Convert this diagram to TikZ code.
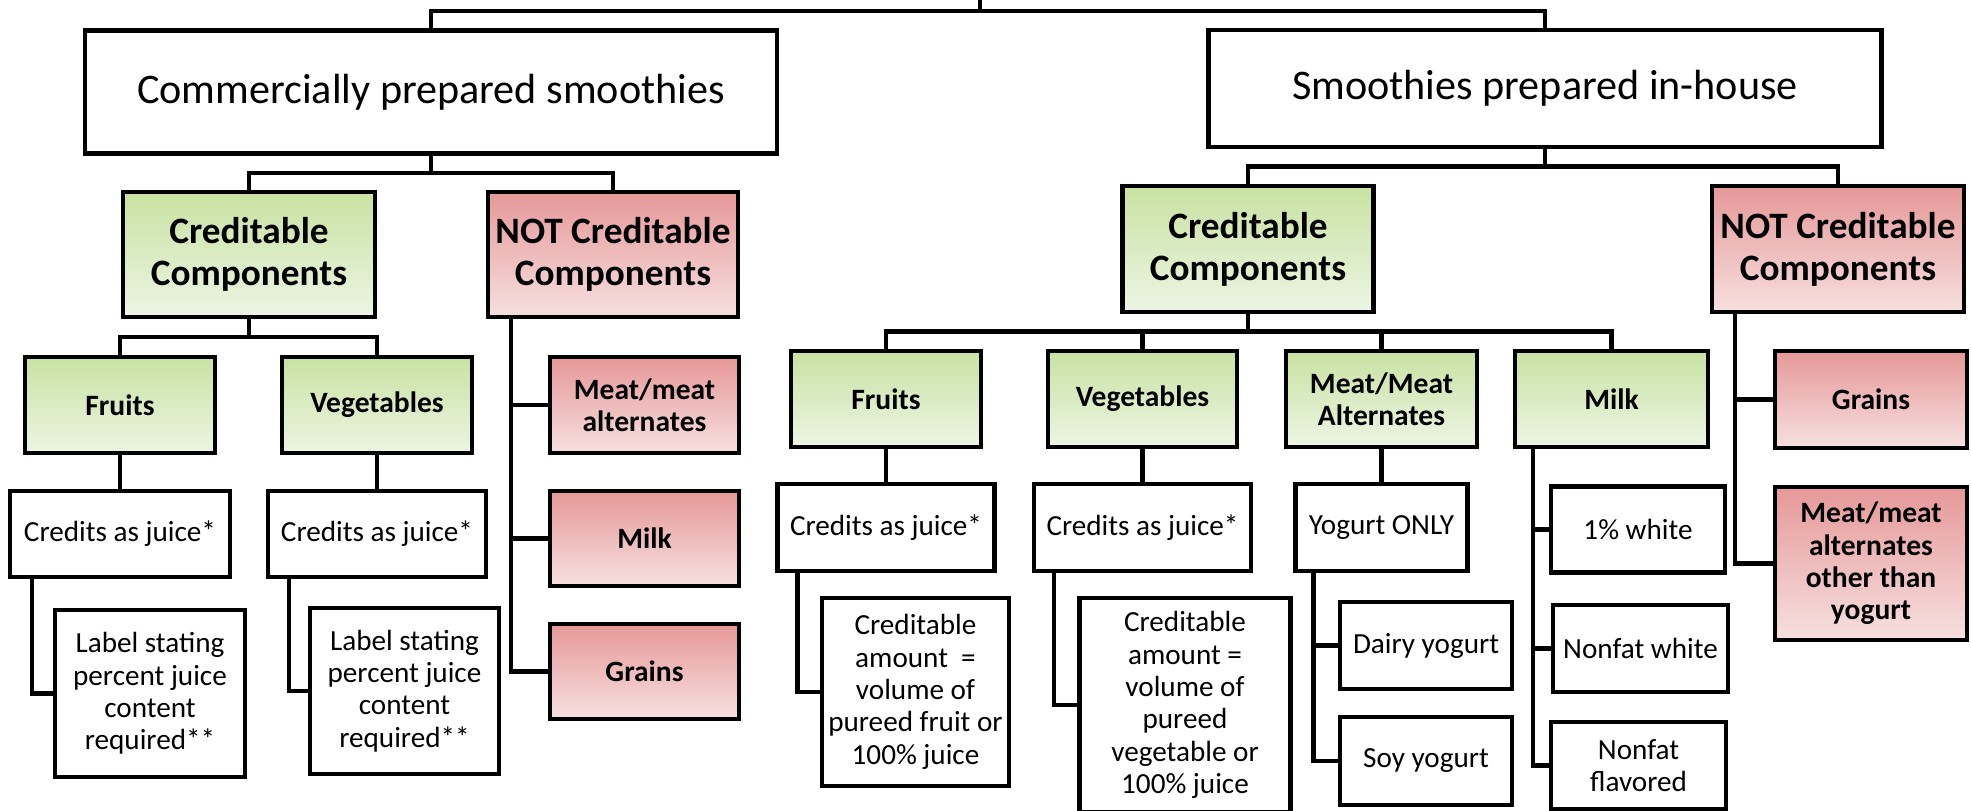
\documentclass[tikz,border=0pt]{standalone}
\usepackage{fontspec}
\setmainfont{Carlito}
\usetikzlibrary{calc}
\definecolor{greentop}{RGB}{200,226,162}
\definecolor{greenbot}{RGB}{237,245,228}
\definecolor{redtop}{RGB}{230,152,152}
\definecolor{redbot}{RGB}{247,224,224}

\begin{document}
\begin{tikzpicture}[x=1mm,y=-1mm,line width=1.2pt,
    box/.style={draw,rectangle,align=center,inner sep=0pt},
    head/.style={box,font=\fontsize{12}{14}\selectfont},
    credit/.style={box,top color=greentop,bottom color=greenbot,font=\bfseries\fontsize{10.6}{11.9}\selectfont},
    nocredit/.style={credit,top color=redtop,bottom color=redbot},
    good/.style={box,top color=greentop,bottom color=greenbot,font=\bfseries\fontsize{8.4}{9.2}\selectfont},
    bad/.style={good,top color=redtop,bottom color=redbot},
    plain/.style={box,font=\fontsize{8.3}{9.2}\selectfont},
    tree/.style={to path={(\tikztostart) |- ($(\tikztostart)!0.5!(\tikztotarget)$) -| (\tikztotarget)}}]
    \useasboundingbox (0,0) rectangle (197.1,81.1);

    \coordinate (root) at (98,-1);
    \coordinate (split) at (98,1.1);
    \node[head,minimum width=69.2mm,minimum height=12.3mm] (comm) at (43.1,9.2) {Commercially prepared smoothies};
    \node[head,minimum width=67.3mm,minimum height=11.7mm] (inhouse) at (154.5,8.85) {Smoothies prepared in-house};

    \node[credit,minimum width=25.2mm,minimum height=12.5mm] (credL) at (24.9,25.45) {Creditable\\Components};
    \node[nocredit,minimum width=25mm,minimum height=12.5mm] (notL) at (61.3,25.45) {NOT Creditable\\Components};
    \node[good,minimum width=19mm,minimum height=9.6mm] (fruitL) at (12,40.5) {Fruits};
    \node[good,minimum width=19mm,minimum height=9.6mm] (vegL) at (37.7,40.5) {Vegetables};
    \node[plain,minimum width=22mm,minimum height=8.6mm] (juiceL1) at (12,53.4) {Credits as juice*};
    \node[plain,minimum width=21.8mm,minimum height=8.6mm] (juiceL2) at (37.7,53.4) {Credits as juice*};
    \node[plain,minimum width=19mm,minimum height=16.7mm] (labelL1) at (15,69.35) {Label stating\\percent juice\\content\\required**};
    \node[plain,minimum width=18.9mm,minimum height=16.6mm] (labelL2) at (40.45,69.1) {Label stating\\percent juice\\content\\required**};
    \node[bad,minimum width=18.9mm,minimum height=9.6mm] (meatL) at (64.45,40.5) {Meat/meat\\alternates};
    \node[bad,minimum width=18.9mm,minimum height=9.5mm] (milkL) at (64.45,53.85) {Milk};
    \node[bad,minimum width=18.9mm,minimum height=9.5mm] (grainsL) at (64.45,67.15) {Grains};

    \node[credit,minimum width=25.1mm,minimum height=12.6mm] (credR) at (124.8,24.9) {Creditable\\Components};
    \node[nocredit,minimum width=25.2mm,minimum height=12.6mm] (notR) at (183.8,24.9) {NOT Creditable\\Components};
    \node[good,minimum width=19mm,minimum height=9.6mm] (fruitR) at (88.6,39.9) {Fruits};
    \node[good,minimum width=18.9mm,minimum height=9.6mm] (vegR) at (114.25,39.9) {Vegetables};
    \node[good,minimum width=19.1mm,minimum height=9.6mm] (meatR) at (138.15,39.9) {Meat/Meat\\Alternates};
    \node[good,minimum width=19.3mm,minimum height=9.6mm] (milkR) at (161.15,39.9) {Milk};
    \node[plain,minimum width=21.7mm,minimum height=8.7mm] (juiceR1) at (88.6,52.75) {Credits as juice*};
    \node[plain,minimum width=21.7mm,minimum height=8.7mm] (juiceR2) at (114.25,52.75) {Credits as juice*};
    \node[plain,minimum width=17.2mm,minimum height=8.7mm] (yogR) at (138.15,52.75) {Yogurt ONLY};
    \node[plain,minimum width=18.7mm,minimum height=18.8mm] (amountR1) at (91.55,69.2) {Creditable\\amount\ \ =\\volume of\\pureed fruit or\\100\% juice};
    \node[plain,minimum width=21.1mm,minimum height=21.4mm] (amountR2) at (118.5,70.5) {Creditable\\amount =\\volume of\\pureed\\vegetable or\\100\% juice};
    \node[plain,minimum width=17.2mm,minimum height=8.7mm] (dairyR) at (142.6,64.55) {Dairy yogurt};
    \node[plain,minimum width=17.2mm,minimum height=8.8mm] (soyR) at (142.6,76.1) {Soy yogurt};
    \node[plain,minimum width=17.4mm,minimum height=8.6mm] (whiteR) at (163.8,52.95) {1\% white};
    \node[plain,minimum width=17.5mm,minimum height=8.7mm] (nonfatR) at (164.05,64.85) {Nonfat white};
    \node[plain,minimum width=17.5mm,minimum height=8.7mm] (flavoredR) at (163.85,76.55) {Nonfat\\flavored};
    \node[bad,minimum width=19.2mm,minimum height=9.7mm] (grainsR) at (187.1,39.95) {Grains};
    \node[bad,minimum width=19.2mm,minimum height=15.3mm] (meatR2) at (187.1,56.35) {Meat/meat\\alternates\\other than\\yogurt};

    \draw (root) -- (split);
    \draw (comm.north) |- (split) -| (inhouse.north);
    \draw (comm.south) to[tree] (credL.north) (comm.south) to[tree] (notL.north);
    \draw (credL.south) to[tree] (fruitL.north) (credL.south) to[tree] (vegL.north);
    \draw (fruitL) -- (juiceL1) (vegL) -- (juiceL2);
    \draw ([xshift=2.4mm]juiceL1.south west) |- (labelL1.west);
    \draw ([xshift=2.3mm]juiceL2.south west) |- (labelL2.west);
    \draw ([xshift=2.5mm]notL.south west) |- (meatL.west);
    \draw ([xshift=2.5mm]notL.south west) |- (milkL.west);
    \draw ([xshift=2.5mm]notL.south west) |- (grainsL.west);

    \draw (inhouse.south) to[tree] (credR.north) (inhouse.south) to[tree] (notR.north);
    \draw (credR.south) to[tree] (fruitR.north) (credR.south) to[tree] (vegR.north);
    \draw (credR.south) to[tree] (meatR.north) (credR.south) to[tree] (milkR.north);
    \draw (fruitR) -- (juiceR1) (vegR) -- (juiceR2) (meatR) -- (yogR);
    \draw ([xshift=2.2mm]juiceR1.south west) |- (amountR1.west);
    \draw ([xshift=2.2mm]juiceR2.south west) |- (amountR2.west);
    \draw ([xshift=2mm]yogR.south west) |- (dairyR.west);
    \draw ([xshift=2mm]yogR.south west) |- (soyR.west);
    \draw ([xshift=2mm]milkR.south west) |- (whiteR.west);
    \draw ([xshift=2mm]milkR.south west) |- (nonfatR.west);
    \draw ([xshift=2mm]milkR.south west) |- (flavoredR.west);
    \draw ([xshift=2.5mm]notR.south west) |- (grainsR.west);
    \draw ([xshift=2.5mm]notR.south west) |- (meatR2.west);
\end{tikzpicture}
\end{document}
